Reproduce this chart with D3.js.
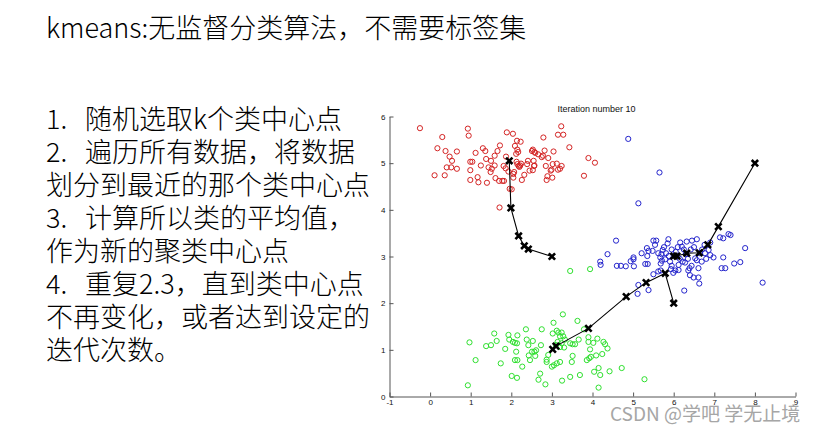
<!DOCTYPE html>
<html><head><meta charset="utf-8">
<script src="https://cdn.jsdelivr.net/npm/d3@7"></script>
<style>body{margin:0;background:#fff}svg{display:block}</style>
</head><body><svg id="c" width="822" height="431"></svg>
<script>
const titleText = "kmeans:无监督分类算法，不需要标签集";
const stepNums = ["1.", "2.", "", "3.", "", "4.", "", ""];
const stepTexts = ["随机选取k个类中心点", "遍历所有数据，将数据", "划分到最近的那个类中心点", "计算所以类的平均值，", "作为新的聚类中心点", "重复2.3，直到类中心点", "不再变化，或者达到设定的", "迭代次数。"];
const chartTitle = "Iteration number 10";
const watermark = "CSDN @学吧 学无止境";
const xTicks = [-1, 0, 1, 2, 3, 4, 5, 6, 7, 8, 9];
const yTicks = [0, 1, 2, 3, 4, 5, 6];

const redPts = [[-0.25,5.75],[0.93,5.74],[0.95,5.59],[0.30,5.56],[0.18,5.32],[0.38,5.26],[0.66,5.25],[0.48,5.14],[0.54,5.05],[0.41,4.91],[0.52,4.91],[0.66,4.88],[0.11,4.74],[0.36,4.74],[0.99,5.03],[1.04,5.03],[0.99,4.85],[0.99,4.64],[1.17,4.70],[1.19,4.59],[1.12,5.22],[1.30,5.32],[1.36,5.26],[1.25,4.95],[1.38,5.09],[1.44,4.91],[1.40,4.58],[1.50,5.05],[1.49,4.81],[1.52,4.88],[1.59,4.95],[1.59,5.16],[1.66,5.26],[1.72,5.38],[1.61,4.68],[1.70,4.62],[1.78,4.62],[1.82,4.62],[1.89,5.66],[2.04,5.63],[2.14,5.48],[2.23,5.46],[2.09,5.37],[2.15,5.29],[2.17,5.24],[2.12,5.20],[1.81,4.94],[1.86,4.89],[1.93,4.82],[2.05,4.77],[1.87,5.14],[2.13,5.03],[2.15,4.98],[2.18,4.94],[2.20,4.92],[2.22,4.95],[2.24,4.99],[2.32,4.75],[2.26,4.64],[2.05,4.69],[2.01,4.44],[1.96,4.45],[2.39,4.98],[2.41,5.05],[2.45,4.84],[2.56,4.94],[2.55,5.05],[2.51,5.26],[2.57,5.24],[2.59,5.22],[2.66,5.19],[2.78,5.16],[2.79,5.55],[2.82,5.27],[2.91,5.11],[2.85,4.94],[2.89,4.72],[2.87,4.64],[3.01,4.69],[2.97,4.84],[2.99,4.86],[3.02,4.98],[3.04,5.25],[3.15,5.61],[3.28,5.61],[3.23,5.79],[3.12,4.99],[3.24,4.94],[3.15,4.86],[3.20,4.88],[3.43,5.34],[3.90,5.11],[4.06,5.01],[3.79,4.73],[1.71,4.05],[2.53,5.29],[2.75,5.13],[2.57,4.95],[2.53,4.85],[2.07,4.81]];

const bluePts = [[4.88,5.52],[5.65,4.80],[5.13,4.14],[4.58,3.34],[4.37,3.05],[4.19,2.89],[4.20,2.82],[4.60,2.80],[4.70,2.80],[4.82,2.79],[4.94,2.90],[5.01,2.94],[5.02,2.79],[5.01,2.98],[5.21,3.07],[5.34,3.18],[5.38,3.12],[5.35,3.01],[5.30,2.84],[5.36,2.84],[5.50,3.34],[5.57,3.34],[5.54,3.25],[5.48,3.12],[5.62,3.07],[5.67,2.98],[5.71,2.91],[5.68,2.85],[5.73,3.14],[5.76,3.20],[5.85,3.28],[5.87,3.37],[5.81,3.07],[5.88,3.01],[5.79,2.94],[5.50,2.62],[5.62,2.68],[5.68,2.70],[5.13,2.39],[5.38,2.28],[5.11,2.20],[5.91,2.89],[5.95,2.80],[5.93,2.73],[5.99,2.65],[6.04,2.70],[6.12,2.82],[6.12,2.71],[6.16,3.30],[6.20,3.21],[6.22,2.89],[6.28,2.87],[6.26,2.27],[6.32,3.32],[6.36,2.70],[6.40,2.60],[6.49,2.55],[6.61,2.55],[6.39,2.75],[6.44,2.80],[6.30,3.05],[6.42,3.15],[6.45,3.34],[6.57,3.37],[6.53,2.96],[6.57,2.92],[6.65,3.07],[6.63,2.42],[6.61,2.75],[6.69,2.89],[6.77,3.07],[6.76,3.25],[6.90,3.30],[6.86,3.14],[6.90,3.03],[6.98,2.98],[7.14,3.41],[7.22,3.39],[7.35,3.48],[7.40,3.46],[7.22,2.98],[7.18,2.75],[7.27,2.75],[7.49,2.85],[7.64,2.88],[7.76,3.18],[8.19,2.44],[6.05,3.10],[6.15,2.95],[5.95,3.15],[6.25,3.15],[6.10,3.20],[5.70,3.05],[6.35,2.95],[6.50,3.20],[6.70,3.15],[6.80,2.95]];

const greenPts = [[0.93,0.24],[0.97,1.16],[1.12,0.78],[1.38,1.08],[1.50,1.10],[1.58,1.35],[1.64,1.19],[1.74,0.71],[1.85,1.02],[1.93,1.32],[1.95,1.22],[2.04,1.17],[2.09,1.15],[2.14,1.14],[2.15,1.31],[2.12,0.96],[2.09,0.78],[2.15,0.78],[2.01,0.44],[2.14,0.40],[2.27,0.64],[2.36,1.44],[2.38,1.22],[2.42,1.10],[2.43,0.88],[2.46,0.78],[2.53,1.19],[2.51,0.96],[2.57,0.96],[2.61,0.99],[2.59,0.87],[2.75,1.44],[2.73,1.10],[2.71,0.49],[2.67,0.36],[2.84,0.26],[2.87,0.79],[2.87,0.74],[2.91,0.89],[3.00,0.64],[3.05,0.67],[3.04,1.58],[3.02,1.35],[3.12,1.41],[3.16,1.37],[3.20,1.29],[3.24,1.37],[3.28,1.29],[3.32,1.22],[3.10,1.10],[3.14,1.17],[3.20,1.06],[3.24,1.14],[3.30,1.05],[3.12,0.71],[3.20,0.74],[3.25,0.34],[3.27,1.76],[3.45,0.42],[3.49,0.74],[3.51,0.87],[3.45,1.14],[3.51,1.12],[3.57,1.12],[3.63,1.62],[3.66,1.22],[3.69,0.46],[3.79,1.44],[3.86,0.78],[3.92,0.82],[3.96,0.85],[3.90,1.27],[3.90,1.17],[3.94,1.01],[4.02,1.15],[4.04,0.53],[4.09,0.88],[4.12,1.24],[4.15,0.61],[4.19,0.46],[4.15,0.19],[4.24,0.91],[4.27,1.17],[4.31,1.12],[4.37,1.03],[4.42,0.54],[4.72,0.61],[5.28,0.37],[3.45,2.69],[3.94,2.73]];

const redPath = [[3.0,3.0],[2.42,3.16],[2.32,3.23],[2.18,3.44],[1.99,4.04],[1.95,5.05]];
const bluePath = [[8.0,5.0],[7.10,3.64],[6.84,3.25],[6.63,3.08],[6.32,3.07],[6.08,3.01],[6.0,3.01]];
const greenPath = [[6.0,2.0],[5.79,2.64],[5.32,2.44],[4.83,2.14],[3.90,1.46],[3.10,1.08],[3.02,1.01]];

const svg = d3.select("#c");
svg.append("rect").attr("width", 822).attr("height", 431).attr("fill", "#fff");

const cjk = "'Noto Sans CJK SC', 'Noto Sans', sans-serif";

// Slide title
svg.append("text").attr("x", 46).attr("y", 38)
  .attr("font-family", cjk).attr("font-size", 27).attr("font-weight", 300)
  .attr("fill", "#000").text(titleText);

// Step list
const lineY0 = 129, lineGap = 33;
stepTexts.forEach((t, i) => {
  const yy = lineY0 + i * lineGap;
  if (stepNums[i]) {
    svg.append("text").attr("x", 46).attr("y", yy)
      .attr("font-family", cjk).attr("font-size", 27).attr("font-weight", 300)
      .attr("fill", "#000").text(stepNums[i]);
  }
  svg.append("text").attr("x", stepNums[i] ? 85 : 46).attr("y", yy)
    .attr("font-family", cjk).attr("font-size", 27).attr("font-weight", 300)
    .attr("fill", "#000").text(t);
});

// Scatter chart
const x = d3.scaleLinear().domain([-1, 9]).range([389.5, 795.5]);
const y = d3.scaleLinear().domain([0, 6]).range([396.5, 116.5]);
const axFont = "'Liberation Sans', Arial, Helvetica, sans-serif";

const gx = svg.append("g").attr("transform", `translate(0,${y(0)})`)
  .call(d3.axisBottom(x).tickValues(xTicks).tickFormat(d => String(d))
    .tickSizeInner(-4).tickSizeOuter(0).tickPadding(3));
const gy = svg.append("g").attr("transform", `translate(${x(-1)},0)`)
  .call(d3.axisLeft(y).tickValues(yTicks).tickFormat(d => String(d))
    .tickSizeInner(-4).tickSizeOuter(0).tickPadding(4));
[gx, gy].forEach(g => {
  g.selectAll("path,line").attr("stroke", "#555").attr("stroke-width", 1);
  g.selectAll("text").attr("font-family", axFont).attr("font-size", 8).attr("fill", "#111");
});

svg.append("text").attr("x", (x(-1) + x(9)) / 2 + 4).attr("y", 112)
  .attr("text-anchor", "middle").attr("font-family", axFont).attr("font-size", 9)
  .attr("fill", "#111").text(chartTitle);

const series = [
  {pts: redPts, color: "#d42424"},
  {pts: bluePts, color: "#2424cc"},
  {pts: greenPts, color: "#2fe02f"}
];
series.forEach(s => {
  svg.append("g").selectAll("circle").data(s.pts).join("circle")
    .attr("cx", d => x(d[0])).attr("cy", d => y(d[1])).attr("r", 2.6)
    .attr("fill", "none").attr("stroke", s.color).attr("stroke-width", 1);
});

const line = d3.line().x(d => x(d[0])).y(d => y(d[1]));
[redPath, bluePath, greenPath].forEach(p => {
  svg.append("path").attr("d", line(p)).attr("fill", "none")
    .attr("stroke", "#000").attr("stroke-width", 1.1);
  svg.append("g").selectAll("path").data(p).join("path")
    .attr("d", d => {
      const cx = x(d[0]), cy = y(d[1]), r = 3.2;
      return `M${cx - r},${cy - r}L${cx + r},${cy + r}M${cx - r},${cy + r}L${cx + r},${cy - r}`;
    })
    .attr("stroke", "#000").attr("stroke-width", 2.6).attr("fill", "none");
});

// Watermark
svg.append("text").attr("x", 610).attr("y", 421)
  .attr("font-family", cjk).attr("font-size", 19)
  .attr("fill", "#a6a6a6").attr("xml:space", "preserve").text(watermark);
</script>
</body></html>
